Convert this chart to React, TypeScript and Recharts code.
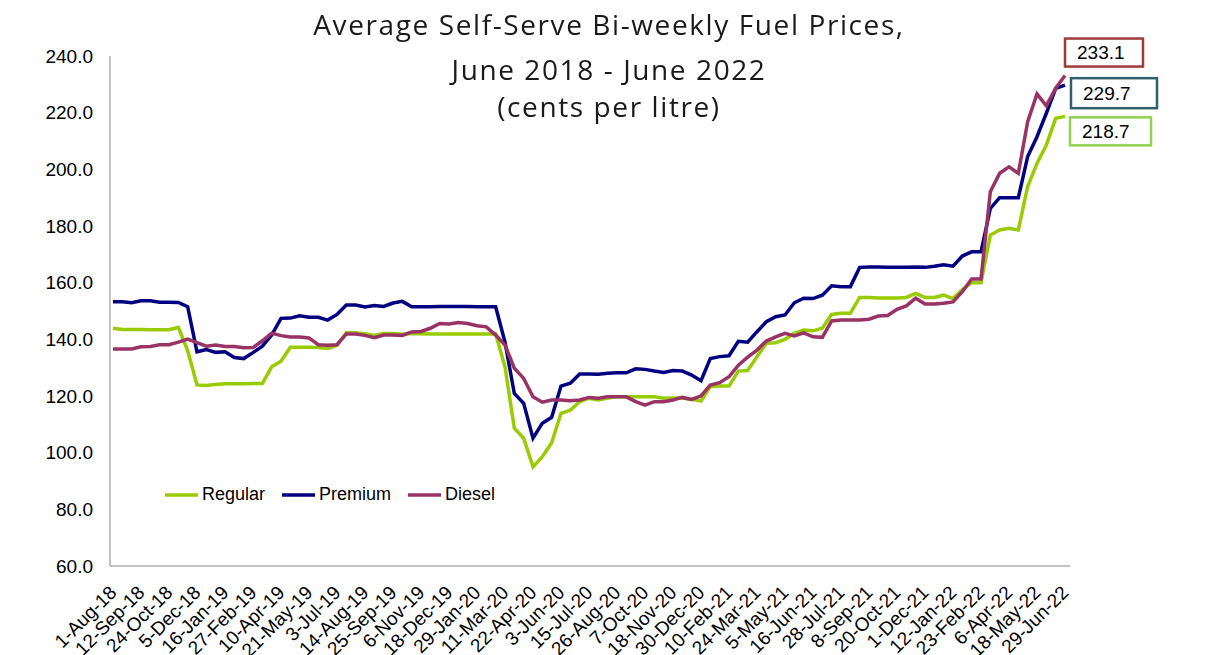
import React from "react";
import { LineChart, Line, XAxis, YAxis, Legend } from "recharts";

// bi-weekly tick labels (every 3rd period)
const tickLabels = [
  "1-Aug-18", "12-Sep-18", "24-Oct-18", "5-Dec-18", "16-Jan-19", "27-Feb-19",
  "10-Apr-19", "21-May-19", "3-Jul-19", "14-Aug-19", "25-Sep-19", "6-Nov-19",
  "18-Dec-19", "29-Jan-20", "11-Mar-20", "22-Apr-20", "3-Jun-20", "15-Jul-20",
  "26-Aug-20", "7-Oct-20", "18-Nov-20", "30-Dec-20", "10-Feb-21", "24-Mar-21",
  "5-May-21", "16-Jun-21", "28-Jul-21", "8-Sep-21", "20-Oct-21", "1-Dec-21",
  "12-Jan-22", "23-Feb-22", "6-Apr-22", "18-May-22", "29-Jun-22",
];

const regular = [
  143.9, 143.5, 143.5, 143.5, 143.4, 143.4, 143.4, 144.2, 136.0, 123.9,
  123.7, 124.1, 124.3, 124.3, 124.3, 124.4, 124.4, 130.3, 132.3, 137.2,
  137.2, 137.2, 137.1, 136.8, 137.9, 142.3, 142.3, 142.0, 141.4, 142.1,
  142.1, 141.8, 142.1, 142.0, 141.9, 141.9, 141.9, 141.9, 141.9, 141.9,
  141.9, 141.9, 130.3, 108.6, 105.1, 95.0, 98.6, 103.5, 113.9, 115.0,
  118.0, 119.2, 118.6, 119.3, 119.7, 119.7, 119.7, 119.7, 119.7, 119.2,
  119.3, 119.3, 118.8, 118.2, 123.3, 123.5, 123.5, 128.8, 129.0, 133.9,
  138.6, 138.8, 140.0, 142.1, 143.3, 143.0, 143.9, 148.8, 149.2, 149.2,
  154.8, 154.8, 154.6, 154.6, 154.6, 154.8, 156.2, 154.8, 154.8, 155.6,
  154.4, 157.6, 160.0, 160.0, 176.8, 178.6, 179.2, 178.6, 193.9, 202.1,
  208.6, 218.0, 218.7,
];

const premium = [
  153.3, 153.3, 152.9, 153.6, 153.6, 153.1, 153.1, 153.0, 151.5, 135.6,
  136.4, 135.4, 135.6, 133.6, 133.2, 135.3, 137.6, 141.5, 147.4, 147.5,
  148.3, 147.8, 147.8, 146.8, 148.8, 152.1, 152.1, 151.4, 151.9, 151.6,
  152.8, 153.4, 151.5, 151.5, 151.5, 151.6, 151.6, 151.6, 151.6, 151.5,
  151.5, 151.5, 139.0, 120.9, 117.4, 105.1, 110.4, 112.5, 123.5, 124.5,
  127.8, 127.8, 127.7, 128.0, 128.2, 128.2, 129.6, 129.4, 128.8, 128.3,
  129.0, 128.8, 127.4, 125.4, 133.2, 133.9, 134.2, 139.3, 139.0, 142.7,
  146.2, 148.0, 148.6, 152.9, 154.5, 154.4, 155.6, 158.9, 158.6, 158.6,
  165.4, 165.5, 165.5, 165.4, 165.4, 165.4, 165.5, 165.4, 165.8, 166.3,
  165.8, 169.4, 170.9, 170.9, 186.2, 190.0, 190.0, 190.0, 204.5, 211.5,
  219.8, 228.6, 229.7,
];

const diesel = [
  136.6, 136.6, 136.6, 137.4, 137.5, 138.1, 138.1, 139.0, 140.1, 138.8,
  137.6, 138.0, 137.5, 137.5, 137.0, 137.1, 139.5, 142.2, 141.3, 140.8,
  140.8, 140.5, 138.1, 137.9, 138.1, 141.9, 141.9, 141.4, 140.6, 141.5,
  141.5, 141.4, 142.6, 142.8, 143.9, 145.6, 145.4, 145.9, 145.6, 144.8,
  144.4, 141.5, 138.0, 129.8, 126.2, 119.7, 117.8, 118.6, 118.6, 118.3,
  118.6, 119.5, 119.2, 119.7, 119.7, 119.7, 118.0, 116.8, 118.0, 118.0,
  118.6, 119.5, 118.8, 120.0, 123.9, 124.7, 126.8, 130.9, 133.7, 136.2,
  139.4, 140.9, 142.1, 141.2, 142.3, 140.9, 140.7, 146.5, 146.8, 146.8,
  146.8, 147.1, 148.2, 148.4, 150.6, 151.8, 154.5, 152.5, 152.5, 152.7,
  153.2, 156.8, 161.3, 161.3, 192.1, 198.6, 200.9, 198.6, 216.8, 226.6,
  222.4, 228.6, 233.1,
];

const seriesNames = ["Regular", "Premium", "Diesel"];
const yTicks = [60, 80, 100, 120, 140, 160, 180, 200, 220, 240];

const chartData = regular.map((r, i) => ({
  idx: i,
  Regular: r,
  Premium: premium[i],
  Diesel: diesel[i],
}));

const lastIndex = chartData.length - 1;

// Boxed value label on the last point of a series
const endLabel = (border: string, dx: number, dy: number, w: number, h: number) =>
  (props: any) => {
    const { x, y, index, value } = props;
    if (index !== lastIndex) return null;
    return (
      <g>
        <rect x={x + dx} y={y + dy} width={w} height={h} fill="#fff" stroke={border} strokeWidth={2.5} />
        <text
          x={x + dx + 12}
          y={y + dy + h / 2}
          dy="0.36em"
          fontSize={19}
          fontFamily="Liberation Sans, Arial, sans-serif"
          fill="#000"
        >
          {Number(value).toFixed(1)}
        </text>
      </g>
    );
  };

const XTick = (props: any) => {
  const { x, payload } = props;
  return (
    <g transform={`translate(${x},589)`}>
      <text
        textAnchor="end"
        transform="rotate(-45)"
        dy="0.35em"
        fontSize={19}
        fontFamily="Liberation Sans, Arial, sans-serif"
        fill="#000"
      >
        {tickLabels[payload.value / 3]}
      </text>
    </g>
  );
};

const renderLegend = (props: any) => {
  const { payload } = props;
  const items = seriesNames.map((n) => payload.find((p: any) => p.value === n)).filter(Boolean);
  return (
    <div style={{ display: "flex", alignItems: "center", fontFamily: "Liberation Sans, Arial, sans-serif", fontSize: 18, color: "#000" }}>
      {items.map((entry: any) => (
        <div key={entry.value} style={{ display: "flex", alignItems: "center", marginRight: 17 }}>
          <svg width={33} height={6} style={{ marginRight: 4 }}>
            <line x1={0} y1={3} x2={33} y2={3} stroke={entry.color} strokeWidth={3.5} />
          </svg>
          <span>{entry.value}</span>
        </div>
      ))}
    </div>
  );
};

const titleStyle: React.CSSProperties = {
  position: "absolute",
  left: 0,
  width: 1218,
  textAlign: "center",
  fontFamily: "Open Sans, sans-serif",
  fontSize: 28,
  letterSpacing: 1.6,
  lineHeight: "32px",
  color: "#1a1a1a",
  whiteSpace: "nowrap",
};

export default function App() {
  return (
    <div style={{ position: "fixed", left: 0, top: 0, width: 1212, height: 655, background: "#fff" }}>
      <LineChart
        width={1212}
        height={655}
        data={chartData}
        margin={{ top: 56, right: 142, left: 10, bottom: 9 }}
      >
        <XAxis
          dataKey="idx"
          interval={2}
          height={80}
          padding={{ left: 3, right: 5 }}
          tickLine={false}
          stroke="#868686"
          tick={<XTick />}
        />
        <YAxis
          domain={[60, 240]}
          ticks={yTicks}
          width={100}
          tickLine={false}
          tickSize={0}
          tickMargin={17}
          stroke="#868686"
          tickFormatter={(v: number) => v.toFixed(1)}
          tick={{ fill: "#000", fontSize: 19, fontFamily: "Liberation Sans, Arial, sans-serif" }}
        />
        <Legend
          layout="horizontal"
          verticalAlign="middle"
          align="center"
          content={renderLegend}
          wrapperStyle={{ left: 165, top: 484, width: "auto" }}
        />
        <Line
          type="linear"
          dataKey="Regular"
          stroke="#99CC00"
          strokeWidth={3.5}
          dot={false}
          isAnimationActive={false}
          label={endLabel("#92D050", 5, 1, 81, 28)}
        />
        <Line
          type="linear"
          dataKey="Premium"
          stroke="#000080"
          strokeWidth={3.5}
          dot={false}
          isAnimationActive={false}
          label={endLabel("#2E5F6B", 6, -7, 86, 30)}
        />
        <Line
          type="linear"
          dataKey="Diesel"
          stroke="#993366"
          strokeWidth={3.5}
          dot={false}
          isAnimationActive={false}
          label={endLabel("#9E3B3B", 0, -37, 78, 28)}
        />
      </LineChart>
      <div style={{ ...titleStyle, top: 8 }}>Average Self-Serve Bi-weekly Fuel Prices,</div>
      <div style={{ ...titleStyle, top: 53 }}>June 2018 - June 2022</div>
      <div style={{ ...titleStyle, top: 90 }}>(cents per litre)</div>
    </div>
  );
}
